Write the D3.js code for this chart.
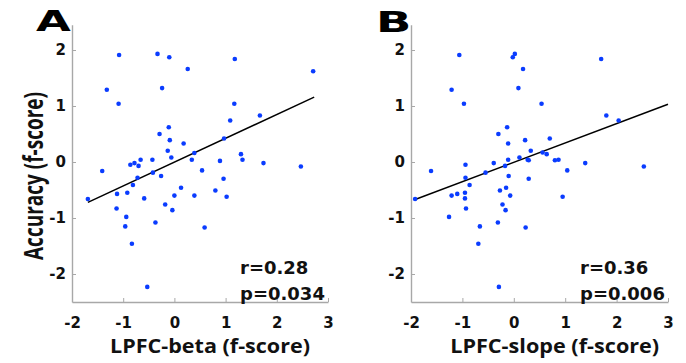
<!DOCTYPE html>
<html>
<head>
<meta charset="utf-8">
<script src="https://cdn.jsdelivr.net/npm/d3@7"></script>
<style>
  body { margin: 0; background: #fff; }
  svg { display: block; }
</style>
</head>
<body>
<div id="chart"></div>
<script>
// panel A : LPFC-beta vs accuracy
let betaX = [-1.08, -0.33, -0.10, 0.26, 1.18, 2.71, -1.32, -0.24, -1.09, 1.17, 1.67, 1.09, -0.11, -0.29, -0.09, 0.97,
  0.18, -0.13, 0.39, 1.30, -0.06, -0.43, -0.66, 0.34, 0.89, 1.33, 1.74, 2.47, -0.86, -0.78, -0.70,
  -1.41, 0.54, -0.42, -0.72, -0.26, 0.96, -0.81, 0.13, 0.80, -0.92, -1.12, 0.00, 0.39, 1.02, -1.69,
  -0.59, -0.18, -1.13, -0.04, -0.94, -0.37, -0.96, 0.59, -0.83, -0.53];
let betaY = [1.91, 1.93, 1.87, 1.66, 1.84, 1.62, 1.29, 1.32, 1.04, 1.04, 0.83, 0.74, 0.62, 0.50, 0.39, 0.42,
  0.33, 0.20, 0.16, 0.14, 0.08, 0.04, 0.04, 0.04, 0.02, 0.04, -0.02, -0.08, -0.05, -0.02, -0.07,
  -0.16, -0.15, -0.19, -0.28, -0.25, -0.30, -0.41, -0.46, -0.51, -0.55, -0.57, -0.60, -0.60, -0.62, -0.66,
  -0.65, -0.76, -0.83, -0.86, -0.98, -1.08, -1.15, -1.17, -1.46, -2.23];

// panel B : LPFC-slope vs accuracy
let slopeX = [-1.06, -0.02, 0.02, 0.18, 1.70, -1.21, 0.09, -0.97, 0.54, 1.80, 2.04, -0.13, -0.30, 0.22, 0.70,
  -0.11, 0.33, 0.56, 0.64, 0.11, -0.11, 0.27, 0.29, 0.80, 0.87, 1.39, 2.53, -0.94, -0.39, -0.17,
  -1.61, 1.04, -0.55, -0.94, -0.10, 0.29, -0.86, -0.15, -0.27, -0.95, -1.10, -0.07, -1.21, 0.95, -1.92,
  -0.95, -0.22, -0.93, -0.16, -1.26, -0.31, -0.66, 0.23, -0.69, -0.29];
let slopeY = [1.91, 1.87, 1.93, 1.66, 1.84, 1.29, 1.32, 1.04, 1.04, 0.83, 0.74, 0.62, 0.50, 0.39, 0.42,
  0.33, 0.20, 0.17, 0.14, 0.08, 0.04, 0.04, 0.03, 0.03, 0.04, -0.02, -0.08, -0.05, -0.02, -0.07,
  -0.16, -0.15, -0.19, -0.28, -0.25, -0.30, -0.41, -0.46, -0.51, -0.55, -0.57, -0.60, -0.60, -0.62, -0.66,
  -0.65, -0.76, -0.83, -0.86, -0.98, -1.08, -1.15, -1.17, -1.46, -2.23];

// least squares fit lines (slope, intercept) and their x extent
let fitA = { slope: 0.425, intercept: -0.002, xs: [-1.69, 2.73] };
let fitB = { slope: 0.346, intercept: -0.006, xs: [-1.92, 3.0] };

let xTicks = [-2, -1, 0, 1, 2, 3];
let yTicks = [-2, -1, 0, 1, 2];
let statsA = ["r=0.28", "p=0.034"];
let statsB = ["r=0.36", "p=0.006"];

let width = 686, height = 363;
let svg = d3.select("#chart").append("svg")
  .attr("width", width)
  .attr("height", height);

let y = d3.scaleLinear().domain([-2.5, 2.45]).range([302, 24.8]);

function drawPanel(xs, ys, fit, stats, letter, xLabel, left, right, letterX, letterY, letterScale, labelX, labelLen) {
  let x = d3.scaleLinear().domain([-2, 3]).range([left, right]);
  let g = svg.append("g");

  // axes (ticks point inside, like matlab)
  let xAxis = g.append("g").attr("transform", "translate(0," + y.range()[0] + ")")
    .call(d3.axisBottom(x).tickValues(xTicks).tickSize(-4).tickSizeOuter(0).tickPadding(15).tickFormat(d3.format("d")));
  let yAxis = g.append("g").attr("transform", "translate(" + left + ",0)")
    .call(d3.axisLeft(y).tickValues(yTicks).tickSize(-4).tickSizeOuter(0).tickPadding(6).tickFormat(d3.format("d")));

  [xAxis, yAxis].forEach(function (a) {
    a.select(".domain").attr("stroke", "#a8a8a8").attr("stroke-width", 1.4);
    a.selectAll(".tick line").attr("stroke", "#a8a8a8").attr("stroke-width", 1);
    a.selectAll(".tick text")
      .attr("fill", "#111")
      .style("font-family", "'DejaVu Sans', sans-serif")
      .style("font-weight", "bold")
      .style("font-size", "15px")
      .text(function (d) { return d < 0 ? "-" + Math.abs(d) : d; });
  });

  // regression line
  g.append("line")
    .attr("x1", x(fit.xs[0])).attr("y1", y(fit.intercept + fit.slope * fit.xs[0]))
    .attr("x2", x(fit.xs[1])).attr("y2", y(fit.intercept + fit.slope * fit.xs[1]))
    .attr("stroke", "#000").attr("stroke-width", 1.5);

  // dots
  g.selectAll("circle").data(d3.range(xs.length)).enter()
    .append("circle")
    .attr("cx", function (i) { return x(xs[i]); })
    .attr("cy", function (i) { return y(ys[i]); })
    .attr("r", 2.3)
    .attr("fill", "#0a3cff");

  // r / p values
  g.selectAll(".stat").data(stats).enter()
    .append("text")
    .attr("class", "stat")
    .attr("x", right - 88)
    .attr("y", function (d, i) { return 274 + i * 26; })
    .style("font-family", "'DejaVu Sans', sans-serif")
    .style("font-weight", "bold")
    .style("font-size", "18px")
    .attr("fill", "#111")
    .text(function (d) { return d; });

  // x label
  g.append("text")
    .attr("x", labelX)
    .attr("y", 352.7)
    .attr("text-anchor", "middle")
    .attr("textLength", labelLen)
    .attr("lengthAdjust", "spacingAndGlyphs")
    .style("font-family", "'Open Sans', sans-serif")
    .style("font-weight", "bold")
    .style("font-size", "19px")
    .attr("fill", "#111")
    .text(xLabel);

  // panel letter
  g.append("text")
    .attr("transform", "translate(" + letterX + "," + letterY + ") scale(" + letterScale + ",1)")
    .attr("text-anchor", "middle")
    .style("font-family", "'DejaVu Sans', sans-serif")
    .style("font-weight", "bold")
    .style("font-size", "29px")
    .attr("fill", "#000")
    .text(letter);
}

drawPanel(betaX, betaY, fitA, statsA, "A", "LPFC-beta (f-score)", 72, 328, 53.3, 30.7, 1.55, 210, 200);
drawPanel(slopeX, slopeY, fitB, statsB, "B", "LPFC-slope (f-score)", 411, 668, 393.8, 32.3, 1.6, 554.7, 209);

// shared y label
svg.append("text")
  .attr("transform", "translate(43,176) rotate(-90)")
  .attr("text-anchor", "middle")
  .attr("textLength", 168)
  .attr("lengthAdjust", "spacingAndGlyphs")
  .style("font-family", "'Open Sans', sans-serif")
  .style("font-weight", "bold")
  .style("font-size", "26px")
  .attr("fill", "#111")
  .text("Accuracy (f-score)");
</script>
</body>
</html>
